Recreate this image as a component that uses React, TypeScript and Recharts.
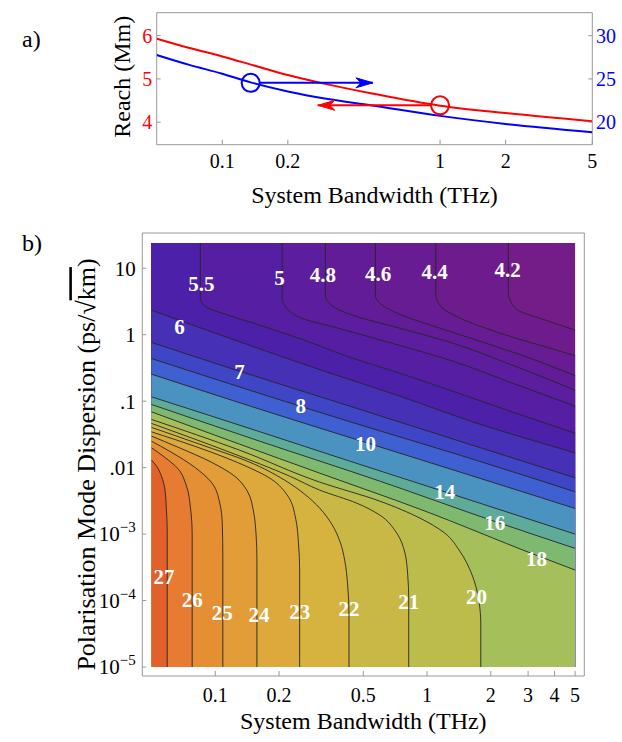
import React from 'react';
import { ComposedChart, Line, Area, XAxis, YAxis, ReferenceArea, ReferenceDot } from 'recharts';

const FONT = '"Liberation Serif","Times New Roman",Times,serif';

// ---------------- Panel a) data ----------------
const aBwTicks = [0.1, 0.2, 1, 2, 5];
const aReachTicks = [4, 5, 6];
const aRightTicks = [20, 25, 30];
const redBw = [0.05, 0.07, 0.1, 0.14, 0.2, 0.3, 0.48, 1, 2, 5];
const redReach = [5.93, 5.72, 5.52, 5.31, 5.09, 4.88, 4.67, 4.38, 4.21, 4.02];
const blueBw = [0.05, 0.07, 0.1, 0.135, 0.2, 0.3, 0.48, 1, 2, 5];
const blueVal = [27.77, 26.65, 25.6, 24.6, 23.55, 22.7, 21.95, 20.73, 19.8, 18.85];
const blueMarker = { bw: 0.135, val: 24.55 };
const blueArrowBw = [0.1477, 0.492];
const redMarker = { bw: 1, val: 4.39 };
const redArrowBw = [0.918, 0.2745];

// ---------------- Panel b) data ----------------
// contour lines: [bandwidth THz, log10 PMD]
type Pt = [number, number];
const c42: Pt[] = [[2.42, 1.38], [2.42, 0.639], [2.51, 0.474], [2.74, 0.353], [3.41, 0.248], [5, 0.068]];
const c44: Pt[] = [[1.1, 1.38], [1.1, 0.609], [1.16, 0.429], [1.37, 0.278], [1.78, 0.128], [2.54, -0.038], [3.68, -0.188], [5, -0.316]];
const c46: Pt[] = [[0.57, 1.38], [0.57, 0.594], [0.624, 0.429], [0.785, 0.278], [1.15, 0.098], [1.78, -0.098], [3.06, -0.353], [5, -0.617]];
const c48: Pt[] = [[0.331, 1.38], [0.331, 0.594], [0.358, 0.429], [0.446, 0.293], [0.743, 0.098], [1.28, -0.113], [2.46, -0.444], [5, -0.835]];
const c50: Pt[] = [[0.207, 1.38], [0.207, 0.564], [0.222, 0.368], [0.264, 0.233], [0.366, 0.113], [0.631, -0.098], [1.28, -0.383], [2.46, -0.714], [5, -1.075]];
const c55: Pt[] = [[0.085, 1.38], [0.085, 0.549], [0.091, 0.414], [0.108, 0.323], [0.157, 0.158], [0.264, -0.083], [0.431, -0.338], [0.743, -0.579], [1.28, -0.835], [2.46, -1.15], [5, -1.481]];
const c60: Pt[] = [[0.05, 0.368], [0.1167, -0.053], [0.279, -0.474], [0.743, -0.925], [1.775, -1.346], [5, -1.777]];
const c70: Pt[] = [[0.05, -0.117], [0.1302, -0.549], [0.431, -1.075], [1.427, -1.602], [5, -2.153]];
const c80: Pt[] = [[0.05, -0.358], [0.1452, -0.835], [0.431, -1.308], [1.427, -1.812], [5, -2.364]];
const c100: Pt[] = [[0.05, -0.594], [0.162, -1.12], [0.5077, -1.617], [1.591, -2.113], [5, -2.614]];
const c140: Pt[] = [[0.05, -0.935], [0.162, -1.459], [0.431, -1.902], [1.212, -2.364], [5, -3.0]];
const c160: Pt[] = [[0.05, -1.05], [0.162, -1.602], [0.5979, -2.203], [2.067, -2.805], [5, -3.215]];
const c180: Pt[] = [[0.05, -1.161], [0.1302, -1.647], [0.3112, -2.083], [0.9236, -2.624], [3.264, -3.316], [5, -3.541]];
const c200: Pt[] = [[0.05, -1.275], [0.1302, -1.737], [0.3112, -2.218], [0.598, -2.504], [0.924, -2.759], [1.212, -2.985], [1.427, -3.256], [1.626, -3.602], [1.755, -3.992], [1.794, -4.368], [1.794, -5]];
const c210: Pt[] = [[0.05, -1.335], [0.1167, -1.767], [0.2244, -2.128], [0.3112, -2.338], [0.4652, -2.534], [0.598, -2.714], [0.719, -2.985], [0.7845, -3.271], [0.8106, -3.617], [0.8193, -3.992], [0.8193, -5]];
const c220: Pt[] = [[0.05, -1.395], [0.0843, -1.647], [0.1452, -1.917], [0.2125, -2.188], [0.264, -2.398], [0.3112, -2.609], [0.3548, -2.85], [0.3889, -3.12], [0.4083, -3.391], [0.4218, -3.767], [0.428, -4.218], [0.428, -5]];
const c230: Pt[] = [[0.05, -1.462], [0.0798, -1.677], [0.1278, -1.925], [0.1839, -2.173], [0.2203, -2.429], [0.2395, -2.759], [0.2475, -3.165], [0.2503, -3.541], [0.2503, -5]];
const c240: Pt[] = [[0.05, -1.526], [0.0666, -1.692], [0.0957, -1.917], [0.1234, -2.128], [0.1425, -2.368], [0.1517, -2.669], [0.1559, -3.015], [0.1573, -3.391], [0.1573, -5]];
const c250: Pt[] = [[0.05, -1.602], [0.0619, -1.767], [0.0798, -1.992], [0.0957, -2.218], [0.1048, -2.519], [0.108, -2.865], [0.1086, -3.391], [0.1086, -5]];
const c260: Pt[] = [[0.05, -1.702], [0.0576, -1.842], [0.0666, -2.015], [0.0729, -2.263], [0.0764, -2.609], [0.0778, -3.015], [0.0778, -5]];
const c270: Pt[] = [[0.05, -1.887], [0.0528, -1.977], [0.0557, -2.128], [0.0579, -2.338], [0.0588, -2.639], [0.0593, -2.94], [0.0593, -5]];

const contourLevels = [4.2, 4.4, 4.6, 4.8, 5, 5.5, 6, 7, 8, 10, 14, 16, 18, 20, 21, 22, 23, 24, 25, 26, 27];
const contourLines = [c42, c44, c46, c48, c50, c55, c60, c70, c80, c100, c140, c160, c180, c200, c210, c220, c230, c240, c250, c260, c270];
// bandColors[0]: below 4.2 ; bandColors[i+1]: above contourLevels[i]
const bandColors = ['#741c87', '#6e1c8d', '#681c93', '#621c98', '#5c1d9e', '#561ea3', '#4c20a9', '#4530b6', '#3f46c6', '#3e60d0',
  '#4a92c0', '#5fab9a', '#7fb970', '#a5bf5a', '#bcbc4c', '#c9b845', '#d6b23f', '#dea93c', '#e29d39', '#e58f35', '#e67b31', '#e2602c'];

const labelText = ['4.2', '4.4', '4.6', '4.8', '5', '5.5', '6', '7', '8', '10', '14', '16', '18', '20', '21', '22', '23', '24', '25', '26', '27'];
const labelBw = [2.399, 1.087, 0.5867, 0.3225, 0.2013, 0.0859, 0.0678, 0.1302, 0.253, 0.5115, 1.212, 2.089, 3.289, 1.712, 0.819, 0.428, 0.2503, 0.1607, 0.108, 0.0778, 0.0572];
const labelPmdExp = [0.98, 0.944, 0.91, 0.895, 0.86, 0.759, 0.117, -0.56, -1.075, -1.65, -2.36, -2.84, -3.37, -3.94, -4.02, -4.12, -4.17, -4.22, -4.19, -3.99, -3.642];

const bBwTicks = [0.1, 0.2, 0.5, 1, 2, 3, 4, 5];
const bBwTickLabels = ['0.1', '0.2', '0.5', '1', '2', '3', '4', '5'];
const bPmdTickExp = [-5, -4, -3, -2, -1, 0, 1];
const bPmdTickBase = ['10', '10', '10', '.01', '.1', '1', '10'];
const bPmdTickSup = ['\u22125', '\u22124', '\u22123', '', '', '', ''];

// ---------------- helpers ----------------
const BW_MIN = 0.05;
const BW_MAX = 5;
const XLO = Math.log10(BW_MIN);
const XHI = Math.log10(BW_MAX);
const YBOT = -5;
const YTOP = 1.38;
const xDomainB: [number, number] = [XLO - 0.0435, XHI + 0.0435];
const yDomainB: [number, number] = [YBOT - 0.135, YTOP + 0.15];

const toRows = (pts: Pt[]) => pts.map(([bw, e]) => ({ x: Math.log10(bw), y: e }));
// full-width strip below a contour that leaves through the right edge
const stripRows = (pts: Pt[]) => {
  const last = pts[pts.length - 1];
  if (last[1] <= YBOT + 1e-6) return null;
  return [{ x: XHI, y: last[1] + 0.008 }, { x: XHI, y: YBOT }];
};

const redData = redBw.map((bw, i) => ({ bw, val: redReach[i] }));
const blueData = blueBw.map((bw, i) => ({ bw, val: blueVal[i] }));
const blueArrowData = blueArrowBw.map((bw) => ({ bw, val: blueMarker.val }));
const redArrowData = redArrowBw.map((bw) => ({ bw, val: redMarker.val }));

const arrowHead = (color: string, dir: number) => (p: any) => {
  if (p.index !== 1) return <g key={`n${p.index}`} />;
  const { cx, cy } = p;
  const d = `M${cx},${cy} L${cx - dir * 17},${cy - 5} L${cx - dir * 12},${cy} L${cx - dir * 17},${cy + 5} Z`;
  return <path key={`a${p.index}`} d={d} fill={color} stroke={color} strokeWidth={1} />;
};

const XTitle = (dy: number) => (props: any) => {
  const vb = props.viewBox || {};
  return (
    <text x={vb.x + vb.width / 2} y={vb.y + dy} textAnchor="middle" fontFamily={FONT} fontSize={24} fill="#000">
      System Bandwidth (THz)
    </text>
  );
};

const ReachTitle = (props: any) => {
  const vb = props.viewBox || {};
  const cx = vb.x + vb.width - 35;
  const cy = vb.y + vb.height / 2 - 2;
  return (
    <text x={cx} y={cy} transform={`rotate(-90 ${cx} ${cy})`} textAnchor="middle" dominantBaseline="central"
      fontFamily={FONT} fontSize={24} fill="#000">
      Reach (Mm)
    </text>
  );
};

const PmdTitle = (props: any) => {
  const vb = props.viewBox || {};
  const cx = vb.x + vb.width - 56;
  const cy = vb.y + vb.height / 2 + 10;
  return (
    <text x={cx} y={cy} transform={`rotate(-90 ${cx} ${cy})`} textAnchor="middle" dominantBaseline="central"
      fontFamily={FONT} fontSize={26} fill="#000">
      Polarisation Mode Dispersion (ps/{'\u221A'}
      <tspan style={{ textDecoration: 'overline' }}>km</tspan>)
    </text>
  );
};

const PmdTick = (props: any) => {
  const { x, y, payload } = props;
  const idx = bPmdTickExp.indexOf(Math.round(payload.value));
  const base = bPmdTickBase[idx] ?? '';
  const sup = bPmdTickSup[idx] ?? '';
  return (
    <text x={x} y={y} dy="0.35em" textAnchor="end" fontFamily={FONT} fontSize={21} fill="#000">
      {base}
      {sup ? <tspan dy={-9} fontSize={15}>{sup}</tspan> : null}
    </text>
  );
};

const ContourLabel = (text: string) => (p: any) => (
  <text x={p.cx} y={p.cy} textAnchor="middle" dominantBaseline="central" fontFamily={FONT} fontWeight="bold"
    fontSize={21} fill="#fff">
    {text}
  </text>
);

const tickStyle = { fontFamily: FONT, fontSize: 20, fill: '#000' };

export default function App() {
  const areaEls: React.ReactNode[] = [];
  contourLines.forEach((pts, i) => {
    areaEls.push(
      <Area key={`area${i}`} data={toRows(pts)} dataKey="x" type="monotone" baseValue={XLO} stroke="none"
        fill={bandColors[i + 1]} fillOpacity={1} dot={false} activeDot={false} isAnimationActive={false} />
    );
    const strip = stripRows(pts);
    if (strip) {
      areaEls.push(
        <Area key={`strip${i}`} data={strip} dataKey="x" type="linear" baseValue={XLO} stroke="none"
          fill={bandColors[i + 1]} fillOpacity={1} dot={false} activeDot={false} isAnimationActive={false} />
      );
    }
  });

  return (
    <div style={{ position: 'absolute', left: 0, top: 0, width: 622, height: 742, background: '#fff' }}>
      {/* Panel a */}
      <div style={{ position: 'absolute', left: 0, top: 0 }}>
        <ComposedChart width={622} height={215} margin={{ top: 12.7, right: 9.7, bottom: 20.3, left: 96.7 }}>
          <XAxis dataKey="bw" type="number" scale="log" domain={[BW_MIN, BW_MAX]} allowDataOverflow ticks={aBwTicks}
            interval={0} tickFormatter={(v: number) => String(v)} axisLine={false} tickSize={-5} tickMargin={14.3}
            tickLine={{ stroke: '#999' }} tick={tickStyle} height={50} label={XTitle(58)} />
          <YAxis yAxisId="left" type="number" domain={[3.48, 6.53]} allowDataOverflow ticks={aReachTicks} interval={0}
            axisLine={false} tickSize={-4} tickMargin={8.4} tickLine={{ stroke: '#999' }}
            tick={{ ...tickStyle, fill: '#ff0000' }} width={60} label={ReachTitle} />
          <YAxis yAxisId="right" orientation="right" type="number" domain={[17.4, 32.65]} allowDataOverflow
            ticks={aRightTicks} interval={0} axisLine={false} tickSize={-4} tickMargin={7.7}
            tickLine={{ stroke: '#999' }} tick={{ ...tickStyle, fill: '#0000ff', textAnchor: 'start' }} width={20} />
          <Line yAxisId="left" data={redData} dataKey="val" type="monotone" stroke="#ff0000" strokeWidth={2}
            dot={false} activeDot={false} isAnimationActive={false} />
          <Line yAxisId="right" data={blueData} dataKey="val" type="monotone" stroke="#0000ff" strokeWidth={2}
            dot={false} activeDot={false} isAnimationActive={false} />
          <Line yAxisId="right" data={blueArrowData} dataKey="val" type="linear" stroke="#0000ff" strokeWidth={2}
            dot={arrowHead('#0000ff', 1)} activeDot={false} isAnimationActive={false} />
          <Line yAxisId="left" data={redArrowData} dataKey="val" type="linear" stroke="#ff0000" strokeWidth={2}
            dot={arrowHead('#ff0000', -1)} activeDot={false} isAnimationActive={false} />
          <ReferenceDot yAxisId="right" x={blueMarker.bw} y={blueMarker.val} r={9} fill="none" stroke="#0000ff"
            strokeWidth={2} />
          <ReferenceDot yAxisId="left" x={redMarker.bw} y={redMarker.val} r={9} fill="none" stroke="#ff0000"
            strokeWidth={2} />
          <ReferenceArea yAxisId="left" x1={BW_MIN} x2={BW_MAX} y1={3.48} y2={6.53} fill="none" stroke="#999"
            strokeWidth={1} />
        </ComposedChart>
      </div>

      {/* Panel b */}
      <div style={{ position: 'absolute', left: 0, top: 210 }}>
        <ComposedChart layout="vertical" width={622} height={532} margin={{ top: 23, right: 37.7, bottom: 6, left: 62.3 }}>
          <XAxis type="number" domain={xDomainB} allowDataOverflow ticks={bBwTicks.map((b) => Math.log10(b))}
            interval={0} tickFormatter={(_v: number, i: number) => bBwTickLabels[i]} axisLine={false} tickSize={-5}
            tickMargin={16.3} tickLine={{ stroke: '#999' }} tick={tickStyle} height={60} label={XTitle(53)} />
          <YAxis type="number" dataKey="y" reversed domain={yDomainB} allowDataOverflow ticks={bPmdTickExp} interval={0}
            axisLine={false} tickSize={-4} tickMargin={10.6} tickLine={{ stroke: '#999' }} tick={PmdTick} width={80}
            label={PmdTitle} />
          <ReferenceArea x1={XLO} x2={XHI} y1={YBOT} y2={YTOP} fill={bandColors[0]} fillOpacity={1} stroke="none" />
          {areaEls}
          {contourLines.map((pts, i) => (
            <Line key={`line${i}`} data={toRows(pts)} dataKey="x" type="monotone" stroke="#262626" strokeWidth={0.9}
              dot={false} activeDot={false} isAnimationActive={false} />
          ))}
          {labelText.map((t, i) => (
            <ReferenceDot key={`lab${i}`} x={Math.log10(labelBw[i])} y={labelPmdExp[i]} r={1} shape={ContourLabel(t)} />
          ))}
          <ReferenceArea x1={xDomainB[0]} x2={xDomainB[1]} y1={yDomainB[0]} y2={yDomainB[1]} fill="none" stroke="#999"
            strokeWidth={1} />
        </ComposedChart>
      </div>

      <svg width={622} height={742} style={{ position: 'absolute', left: 0, top: 0, pointerEvents: 'none' }}>
        <text x={22} y={47} fontFamily={FONT} fontSize={24} fill="#000">a)</text>
        <text x={22} y={251} fontFamily={FONT} fontSize={24} fill="#000">b)</text>
      </svg>
    </div>
  );
}
